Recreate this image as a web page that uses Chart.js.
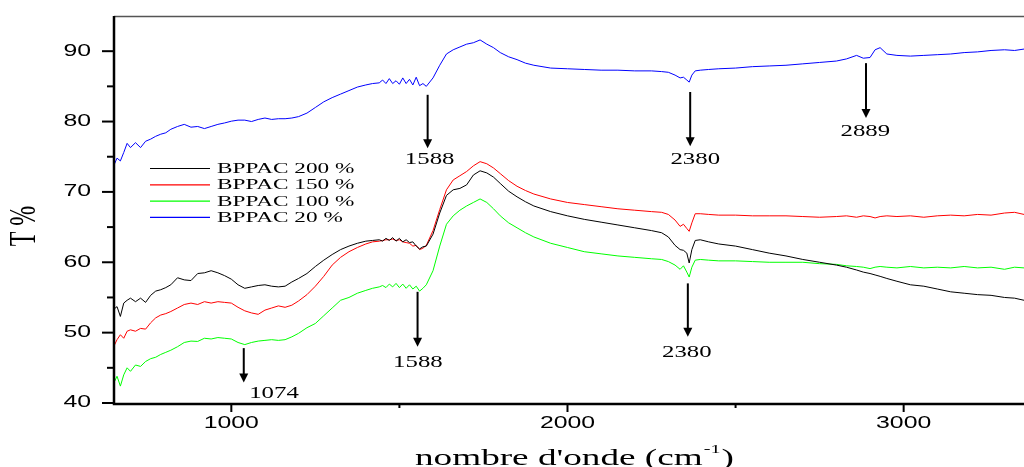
<!DOCTYPE html>
<html><head><meta charset="utf-8">
<script src="https://cdn.jsdelivr.net/npm/chart.js@4.4.1/dist/chart.umd.min.js"></script>
<style>html,body{margin:0;padding:0;background:#fff;overflow:hidden}#wrap{width:1024px;height:467px;position:relative}</style>
</head><body><div id="wrap"><canvas id="c" width="1024" height="467"></canvas></div>
<script>
// ---- data ----
const wavenumbers = [650,660,670,680,690,700,715,730,745,760,
 775,790,805,820,840,860,880,900,920,940,
 960,980,1000,1020,1040,1060,1080,1100,1120,1140,
 1160,1180,1200,1225,1250,1275,1300,1325,1350,1375,
 1400,1420,1440,1450,1460,1470,1480,1490,1500,1510,
 1520,1530,1540,1550,1560,1570,1580,1600,1620,1640,
 1660,1680,1700,1720,1740,1760,1780,1800,1825,1850,
 1875,1900,1950,2000,2050,2100,2150,2200,2250,2280,
 2300,2320,2335,2345,2355,2362,2370,2380,2395,2420,
 2450,2500,2550,2600,2650,2700,2750,2800,2830,2860,
 2880,2900,2915,2930,2950,2980,3020,3060,3100,3140,
 3180,3220,3260,3300,3330,3358];

const t200 = [53.3,53.7,52.3,54.2,54.6,54.9,54.4,54.9,54.3,55.3,
 55.9,56.1,56.4,56.8,57.8,57.5,57.4,58.4,58.5,58.8,
 58.5,58.1,57.6,56.8,56.3,56.5,56.7,56.8,56.6,56.5,
 56.6,57.2,57.7,58.4,59.4,60.3,61.1,61.8,62.3,62.7,
 63.0,63.1,63.2,63.0,63.4,63.1,63.5,63.0,63.4,62.9,
 63.2,62.8,62.9,62.3,61.9,62.2,62.3,64.0,67.0,69.5,
 70.3,70.5,71.0,72.4,73.0,72.7,72.1,71.2,70.1,69.3,
 68.6,68.0,67.2,66.6,66.1,65.7,65.3,64.9,64.5,64.2,
 63.6,62.4,61.8,61.7,61.3,59.9,61.8,63.1,63.2,62.9,
 62.6,62.3,61.8,61.3,60.9,60.4,60.0,59.6,59.3,58.9,
 58.6,58.4,58.2,58.0,57.7,57.3,56.8,56.6,56.2,55.8,
 55.6,55.4,55.3,55.0,54.9,54.6];

const t150 = [48.0,49.0,49.7,49.2,50.2,50.4,50.2,50.6,50.5,51.4,
 52.1,52.5,52.7,53.0,53.5,54.0,54.2,54.0,54.4,54.2,
 54.4,54.3,54.2,53.6,53.1,52.8,52.6,53.2,53.5,53.8,
 53.6,53.9,54.5,55.4,56.6,58.0,59.6,60.7,61.5,62.1,
 62.6,62.9,63.0,63.1,63.2,63.2,63.3,63.1,63.2,62.9,
 62.8,62.7,62.3,62.4,61.8,62.0,62.4,64.5,67.5,70.3,
 71.7,72.3,72.9,73.7,74.3,74.0,73.4,72.6,71.6,70.8,
 70.2,69.7,69.0,68.5,68.2,67.9,67.6,67.4,67.2,67.1,
 66.8,66.0,65.1,65.4,64.8,64.4,65.6,66.9,66.9,66.8,
 66.7,66.7,66.6,66.6,66.6,66.5,66.4,66.5,66.6,66.4,
 66.6,66.5,66.3,66.5,66.6,66.5,66.6,66.4,66.6,66.7,
 66.6,66.8,66.7,67.0,67.1,66.8];

const t100 = [42.8,43.8,42.4,44.0,45.0,44.5,45.4,45.2,45.9,46.3,
 46.5,46.9,47.2,47.5,48.0,48.6,48.8,48.75,49.2,49.1,
 49.3,49.2,49.1,48.6,48.3,48.6,48.8,48.9,49.0,48.9,
 49.0,49.4,49.9,50.7,51.3,52.4,53.5,54.6,55.0,55.6,
 56.0,56.3,56.5,56.7,56.4,56.9,56.5,57.0,56.4,56.9,
 56.3,56.8,56.2,56.6,55.9,56.3,56.8,58.8,62.3,65.4,
 66.6,67.4,68.0,68.5,69.0,68.5,67.6,66.6,65.6,64.9,
 64.2,63.6,62.7,62.1,61.5,61.2,60.9,60.7,60.5,60.4,
 60.1,59.6,59.0,59.5,58.6,57.9,59.3,60.3,60.4,60.3,
 60.2,60.2,60.1,60.0,60.0,60.0,59.8,59.7,59.5,59.4,
 59.3,59.1,59.3,59.4,59.3,59.2,59.4,59.2,59.3,59.2,
 59.4,59.2,59.3,59.0,59.3,59.2];

const t20 = [73.7,74.8,74.4,75.6,76.9,76.3,77.0,76.3,77.2,77.5,
 77.9,78.2,78.4,78.9,79.3,79.6,79.2,79.3,79.0,79.3,
 79.6,79.8,80.05,80.2,80.2,80.0,80.3,80.5,80.3,80.4,
 80.4,80.5,80.7,81.2,82.0,82.8,83.4,83.9,84.4,84.9,
 85.2,85.4,85.5,85.9,85.4,86.1,85.4,85.8,85.3,86.2,
 85.4,86.0,85.2,86.3,85.1,85.4,85.0,86.2,88.0,89.6,
 90.2,90.6,91.0,91.2,91.6,91.0,90.5,89.8,89.2,88.8,
 88.3,88.0,87.6,87.5,87.4,87.3,87.3,87.2,87.2,87.1,
 87.0,86.6,86.2,86.3,85.9,85.6,86.6,87.2,87.3,87.4,
 87.5,87.6,87.8,87.9,88.0,88.2,88.4,88.6,88.9,89.4,
 89.0,89.1,90.2,90.5,89.6,89.4,89.3,89.4,89.5,89.6,
 89.8,89.9,90.1,90.2,90.1,90.3];

const seriesLabels = ['BPPAC 200 %','BPPAC 150 %','BPPAC 100 %','BPPAC 20 %'];
const seriesColors = ['#000000','#ff0000','#00ff00','#0000ff'];
const xMajorTicks = [1000,2000,3000];
const xMinorTicks = [1500,2500];
const yMajorTicks = [40,50,60,70,80,90];
const yMinorTicks = [45,55,65,75,85];
// peak annotations: arrow at wavenumber wn, from T=top down to T=tip, label centred at (lx, ly)
const peakLabels = ['1588','2380','2889','1588','2380','1074'];
const peakWn     = [1584,2365,2888,1554,2358,1037];
const peakTop    = [83.8,84.2,88.3,55.8,57.0,47.8];
const peakTip    = [76.2,76.5,80.5,48.0,49.4,42.9];
const peakLabelWn= [1590,2380,2886,1555,2355,1127];
const peakLabelT = [74.5,74.5,78.5,45.7,47.15,41.3];

const xTitle = "nombre d'onde (cm";
const yTitle = 'T %';

const SX = 1.55; // horizontal stretch of the original picture's lettering

function toXY(ys){ return wavenumbers.map((w,i)=>({x:w,y:ys[i]})); }
const seriesValues = [t200,t150,t100,t20];

function sText(ctx, txt, x, y, align, font) {
  ctx.save();
  ctx.translate(x, y);
  ctx.scale(SX, 1);
  ctx.font = font;
  ctx.textAlign = align;
  ctx.textBaseline = 'middle';
  ctx.fillStyle = '#000';
  ctx.fillText(txt, 0, 0);
  ctx.restore();
}

const decor = {
  id: 'decor',
  afterDraw(chart) {
    const {ctx, chartArea: a, scales: {x, y}} = chart;
    ctx.save();
    // top frame line
    ctx.strokeStyle = '#555'; ctx.lineWidth = 1.5;
    ctx.beginPath(); ctx.moveTo(a.left, a.top + 0.5); ctx.lineTo(a.right, a.top + 0.5); ctx.stroke();
    // axes
    ctx.strokeStyle = '#000'; ctx.lineWidth = 2.5;
    ctx.beginPath(); ctx.moveTo(a.left, a.top); ctx.lineTo(a.left, a.bottom + 1); ctx.lineTo(a.right, a.bottom + 1); ctx.stroke();
    // ticks
    ctx.lineWidth = 2;
    yMajorTicks.forEach(v => { const py = y.getPixelForValue(v); ctx.beginPath(); ctx.moveTo(a.left - 12, py); ctx.lineTo(a.left, py); ctx.stroke();
      sText(ctx, String(v), a.left - 23, py, 'right', '16px "Liberation Sans", Arial, sans-serif'); });
    yMinorTicks.forEach(v => { const py = y.getPixelForValue(v); ctx.beginPath(); ctx.moveTo(a.left - 7, py); ctx.lineTo(a.left, py); ctx.stroke(); });
    xMajorTicks.forEach(v => { const px = x.getPixelForValue(v); ctx.beginPath(); ctx.moveTo(px, a.bottom); ctx.lineTo(px, a.bottom + 9); ctx.stroke();
      sText(ctx, String(v), px, a.bottom + 21, 'center', '16px "Liberation Sans", Arial, sans-serif'); });
    xMinorTicks.forEach(v => { const px = x.getPixelForValue(v); ctx.beginPath(); ctx.moveTo(px, a.bottom); ctx.lineTo(px, a.bottom + 5); ctx.stroke(); });
    // arrows + peak labels
    const serif16 = '16px "Liberation Serif", "Times New Roman", serif';
    peakLabels.forEach((lab, i) => {
      const px = x.getPixelForValue(peakWn[i]);
      const p1 = y.getPixelForValue(peakTop[i]);
      const p2 = y.getPixelForValue(peakTip[i]);
      ctx.strokeStyle = '#000'; ctx.lineWidth = 2;
      ctx.beginPath(); ctx.moveTo(px, p1); ctx.lineTo(px, p2 - 7); ctx.stroke();
      ctx.fillStyle = '#000';
      ctx.beginPath(); ctx.moveTo(px - 4.5, p2 - 9); ctx.lineTo(px + 4.5, p2 - 9); ctx.lineTo(px, p2); ctx.closePath(); ctx.fill();
      sText(ctx, lab, x.getPixelForValue(peakLabelWn[i]), y.getPixelForValue(peakLabelT[i]), 'center', serif16);
    });
    // legend
    const lx0 = 150, lx1 = 210, ly0 = 168.5, dy = 16.3;
    chart.data.datasets.forEach((ds, i) => {
      const ly = ly0 + i * dy;
      ctx.strokeStyle = ds.borderColor; ctx.lineWidth = 1.2;
      ctx.beginPath(); ctx.moveTo(lx0, ly); ctx.lineTo(lx1, ly); ctx.stroke();
      sText(ctx, ds.label, 217, ly + 0.5, 'left', '15px "Liberation Serif", "Times New Roman", serif');
    });
    // axis titles
    const tf = '24px "Liberation Serif", "Times New Roman", serif';
    ctx.font = tf;
    const w1 = ctx.measureText(xTitle).width * SX;
    const x0 = 415, by = 459;
    sText(ctx, xTitle, x0, by, 'left', tf);
    ctx.font = '13px "Liberation Serif", serif';
    const w2 = ctx.measureText('-1').width * SX;
    sText(ctx, '-1', x0 + w1 + 1, by - 9, 'left', '13px "Liberation Serif", "Times New Roman", serif');
    sText(ctx, ')', x0 + w1 + w2 + 2, by, 'left', tf);
    // y title rotated
    ctx.save();
    ctx.translate(25, 226);
    ctx.scale(SX, 1);
    ctx.rotate(-Math.PI / 2);
    ctx.font = '24px "Liberation Serif", "Times New Roman", serif';
    ctx.textAlign = 'center'; ctx.textBaseline = 'middle'; ctx.fillStyle = '#000';
    ctx.fillText(yTitle, 0, 0);
    ctx.restore();
    ctx.restore();
  }
};

new Chart(document.getElementById('c'), {
  type: 'line',
  data: {
    datasets: seriesLabels.map((lab, i) => ({
      label: lab,
      data: toXY(seriesValues[i]),
      borderColor: seriesColors[i],
      backgroundColor: seriesColors[i],
      borderWidth: 1,
      pointRadius: 0,
      tension: 0,
      fill: false
    }))
  },
  options: {
    responsive: false,
    animation: false,
    layout: { padding: { left: 114, right: 0, top: 16, bottom: 64 } },
    plugins: { legend: { display: false }, tooltip: { enabled: false } },
    scales: {
      x: { type: 'linear', min: 651, max: 3358, display: false },
      y: { type: 'linear', min: 40, max: 95, display: false }
    }
  },
  plugins: [decor]
});
</script></body></html>
